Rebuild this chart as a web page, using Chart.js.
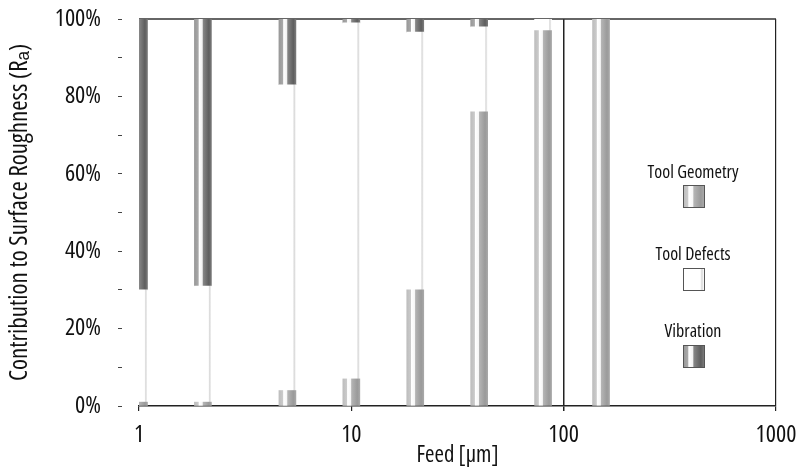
<!DOCTYPE html>
<html><head><meta charset="utf-8">
<script src="https://cdn.jsdelivr.net/npm/chart.js@4.4.1/dist/chart.umd.min.js"></script>
<style>html,body{margin:0;padding:0;background:#fff}canvas{display:block}</style>
</head><body>
<canvas id="c" width="806" height="467"></canvas>
<script>
// ---- data ----
const feeds = [1, 2, 5, 10, 20, 40, 80, 150];
const toolGeometry = [1, 1, 4, 7, 30, 76, 97, 100];
const toolDefects = [29, 30, 79, 92, 66.6, 22, 3, 0];
const vibration = [70, 69, 17, 1, 3.4, 2, 0, 0];
const seriesLabels = ['Tool Geometry', 'Tool Defects', 'Vibration'];
const xTickValues = [1, 10, 100, 1000];
const yTickValues = [0, 10, 20, 30, 40, 50, 60, 70, 80, 90, 100];
const yLabelledTicks = [0, 20, 40, 60, 80, 100];
const xTitle = 'Feed [µm]';
const yTitle = 'Contribution to Surface Roughness (Rₐ)';

// ---- font selection: pick an installed narrow face ----
const mctx = document.createElement('canvas').getContext('2d');
function wOf(font, text){ mctx.font = font; return mctx.measureText(text).width; }
const probe = 'Contribution Roughness 100%';
const candidates = [
  {family: "'Liberation Sans Narrow'", weight: ''},
  {family: "'Arial Narrow'", weight: ''},
  {family: "'Open Sans'", weight: 'condensed'},
  {family: "'Noto Sans'", weight: 'condensed'},
  {family: "Roboto", weight: 'condensed'},
  {family: "'Liberation Sans'", weight: 'condensed'},
  {family: "'DejaVu Sans Condensed'", weight: ''},
  {family: "'DejaVu Sans'", weight: 'condensed'}
];
let FONT = {family: "'Liberation Sans', Arial, sans-serif", weight: ''};
for (const c of candidates){
  const present = Math.abs(wOf('40px ' + c.family + ', monospace', probe) - wOf('40px monospace', probe)) > 0.5;
  if (!present) continue;
  if (c.weight === ''){
    FONT = {family: c.family + ", 'Liberation Sans', sans-serif", weight: ''}; break;
  } else {
    const n = wOf('40px ' + c.family, probe);
    const k = wOf('condensed 40px ' + c.family, probe);
    if (k < n * 0.93){ FONT = {family: c.family + ", 'Liberation Sans', sans-serif", weight: 'condensed'}; break; }
  }
}
function fstr(size){ return (FONT.weight ? FONT.weight + ' ' : '') + size + 'px ' + FONT.family; }
function sizeFor(text, targetW, maxSize){
  const w = wOf(fstr(100), text);
  return Math.min(maxSize, Math.round(100 * targetW / w * 10) / 10);
}
const Y_TICK_SIZE = sizeFor('100%', 48, 24);
const X_TICK_SIZE = sizeFor('1000', 45, 24);
const Y_TITLE_SIZE = sizeFor(yTitle, 352, 25);
const X_TITLE_SIZE = sizeFor(xTitle, 82, 23);
const LEG_SIZE = sizeFor('Tool Geometry', 92, 18);

// ---- styles ----
const BAR_W = 17;
const stopsGeom = [[0,'#bdbdbd'],[0.22,'#cacaca'],[0.28,'#ffffff'],[0.46,'#f7f7f7'],[0.52,'#b4b4b4'],[0.85,'#9a9a9a'],[1,'#a8a8a8']];
const stopsDef = [[0,'#ffffff'],[0.82,'#ffffff'],[0.9,'#d6d6d6'],[1,'#ffffff']];
const stopsVib = [[0,'#989898'],[0.22,'#a8a8a8'],[0.28,'#ffffff'],[0.46,'#f2f2f2'],[0.52,'#858585'],[0.85,'#5e5e5e'],[1,'#7a7a7a']];
const seriesStops = [stopsGeom, stopsDef, stopsVib];

function makeGrad(c, x0, x1, stops){
  const g = c.createLinearGradient(x0, 0, x1, 0);
  stops.forEach(([o, col]) => g.addColorStop(o, col));
  return g;
}
function barGradient(stops){
  return (ctx) => {
    const chart = ctx.chart;
    const xs = chart.scales && chart.scales.x;
    if (!xs || ctx.type !== 'data' || !ctx.raw) return '#cccccc';
    const cx = xs.getPixelForValue(ctx.raw.x);
    if (!isFinite(cx)) return '#cccccc';
    return makeGrad(chart.ctx, cx - BAR_W/2, cx + BAR_W/2, stops);
  };
}
const pts = arr => feeds.map((f, i) => ({x: f, y: arr[i]}));

const frame = {
  id: 'frame',
  beforeDatasetsDraw(chart){
    const {ctx, chartArea: a} = chart;
    ctx.save();
    ctx.strokeStyle = '#333';
    ctx.lineWidth = 1.5;
    ctx.beginPath();
    ctx.moveTo(a.left, a.top);
    ctx.lineTo(a.right, a.top);
    ctx.stroke();
    ctx.restore();
  }
};

const legendPos = [
  {ty: 173, by: 185},
  {ty: 255, by: 268},
  {ty: 332, by: 345}
];
const customLegend = {
  id: 'customLegend',
  afterDraw(chart){
    const ctx = chart.ctx;
    ctx.save();
    ctx.font = fstr(LEG_SIZE);
    ctx.textAlign = 'center';
    ctx.textBaseline = 'middle';
    chart.data.datasets.forEach((ds, i) => {
      const p = legendPos[i];
      ctx.fillStyle = '#111';
      ctx.fillText(ds.label, 693, p.ty);
      const x0 = 683, w = 21, h = 22;
      ctx.fillStyle = makeGrad(ctx, x0, x0 + w, seriesStops[i]);
      ctx.fillRect(x0, p.by, w, h);
      ctx.strokeStyle = '#555';
      ctx.lineWidth = 1;
      ctx.strokeRect(x0 + 0.5, p.by + 0.5, w, h);
    });
    ctx.restore();
  }
};

Chart.defaults.font.family = FONT.family;
if (FONT.weight) Chart.defaults.font.weight = FONT.weight;
Chart.defaults.color = '#111';

const chart = new Chart(document.getElementById('c'), {
  type: 'bar',
  data: {
    datasets: [
      {label: seriesLabels[0], data: pts(toolGeometry), backgroundColor: barGradient(stopsGeom)},
      {label: seriesLabels[1], data: pts(toolDefects), backgroundColor: barGradient(stopsDef)},
      {label: seriesLabels[2], data: pts(vibration), backgroundColor: barGradient(stopsVib)}
    ]
  },
  options: {
    responsive: false,
    animation: false,
    barThickness: BAR_W,
    borderWidth: 0,
    layout: {padding: {left: 0, right: 30, top: 19, bottom: 0}},
    plugins: {legend: {display: false}, tooltip: {enabled: false}},
    scales: {
      x: {
        type: 'logarithmic',
        stacked: true,
        offset: false,
        min: 1, max: 1000,
        afterBuildTicks: s => { s.ticks = xTickValues.map(v => ({value: v})); },
        afterFit: s => { s.height = 61; s.paddingLeft = 0; s.paddingRight = 0; },
        ticks: {
          autoSkip: false, maxRotation: 0,
          padding: 10,
          font: {size: X_TICK_SIZE},
          callback: v => String(v)
        },
        grid: {
          offset: false,
          drawOnChartArea: true,
          color: c => (c.tick && (c.tick.value === 100 || c.tick.value === 1000)) ? '#222' : 'rgba(0,0,0,0)',
          lineWidth: c => (c.tick && c.tick.value === 100) ? 1.5 : 1.2,
          tickColor: '#222',
          tickLength: 5
        },
        border: {display: true, color: '#222', width: 1.5},
        title: {display: true, text: xTitle, font: {size: X_TITLE_SIZE}, padding: {top: 0, bottom: -2}}
      },
      y: {
        stacked: true,
        min: 0, max: 100,
        afterBuildTicks: s => { s.ticks = yTickValues.map(v => ({value: v})); },
        afterFit: s => { s.width = 139; s.paddingTop = 0; s.paddingBottom = 0; },
        ticks: {
          autoSkip: false,
          padding: 17,
          font: {size: Y_TICK_SIZE},
          callback: v => yLabelledTicks.includes(v) ? v + '%' : ''
        },
        grid: {
          drawOnChartArea: false,
          tickLength: 21,
          tickColor: '#444',
          tickBorderDash: [4, 40]
        },
        border: {display: false},
        title: {display: true, text: yTitle, font: {size: Y_TITLE_SIZE}, padding: 5}
      }
    }
  },
  plugins: [frame, customLegend]
});
chart.update();
</script>
</body></html>
